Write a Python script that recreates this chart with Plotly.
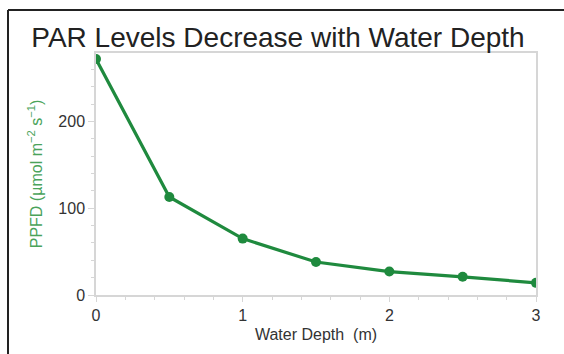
import plotly.graph_objects as go

depth = [0, 0.5, 1, 1.5, 2, 2.5, 3]
ppfd = [272, 113, 65, 38, 27, 21, 14]
x_ticks = [0, 1, 2, 3]
y_ticks = [0, 100, 200]

title_text = "PAR Levels Decrease with Water Depth"
x_title = "Water Depth  (m)"
y_title = "PPFD (µmol m<sup>−2</sup> s<sup>−1</sup>)"

line_green = "#1f8a3e"
label_green = "#4aa35a"
axis_gray = "#d6d6d6"
text_gray = "#333333"

fig = go.Figure()
fig.add_trace(go.Scatter(
    x=depth, y=ppfd, mode="lines+markers",
    line=dict(color=line_green, width=3.2),
    marker=dict(color=line_green, size=10),
    cliponaxis=True, showlegend=False,
))

W, H = 564, 354
L, R, T, B = 96, 28, 53, 59
pw, ph = W - L - R, H - T - B

def px(x):
    return (x - L) / pw

def py(y):
    return (H - B - y) / ph

fig.update_layout(
    width=W, height=H,
    margin=dict(l=L, r=R, t=T, b=B),
    paper_bgcolor="white", plot_bgcolor="white",
    font=dict(family="Liberation Sans, Arial, sans-serif", color=text_gray),
    title=dict(text=title_text, x=278 / W, xanchor="center",
               y=1 - 37 / H, yanchor="middle",
               font=dict(size=28, color="#222222")),
    xaxis=dict(
        range=[0, 3], tickvals=x_ticks, ticks="outside", ticklen=5,
        tickcolor=axis_gray, showline=True, linecolor=axis_gray, linewidth=1.5,
        mirror=True, showgrid=False, zeroline=False,
        tickfont=dict(size=16, color=text_gray),
        minor=dict(dtick=0.2, ticks="outside", ticklen=3, tickcolor=axis_gray),
        title=dict(text=x_title, font=dict(size=16, color=text_gray), standoff=6),
    ),
    yaxis=dict(
        range=[0, 279], tickvals=y_ticks, ticks="outside", ticklen=6,
        tickcolor=axis_gray, showline=True, linecolor=axis_gray, linewidth=1.5,
        mirror=True, showgrid=False, zeroline=False,
        tickfont=dict(size=16, color=text_gray),
        minor=dict(dtick=20, ticks="outside", ticklen=3, tickcolor=axis_gray),
        title=dict(text=y_title, font=dict(size=16, color=label_green), standoff=12),
    ),
    shapes=[
        dict(type="line", xref="paper", yref="paper",
             x0=px(8), x1=px(W + 5), y0=py(10), y1=py(10),
             line=dict(color="#222222", width=2)),
        dict(type="line", xref="paper", yref="paper",
             x0=px(8), x1=px(8), y0=py(10), y1=py(H + 5),
             line=dict(color="#222222", width=2)),
    ],
)

fig.write_html("out.html")
